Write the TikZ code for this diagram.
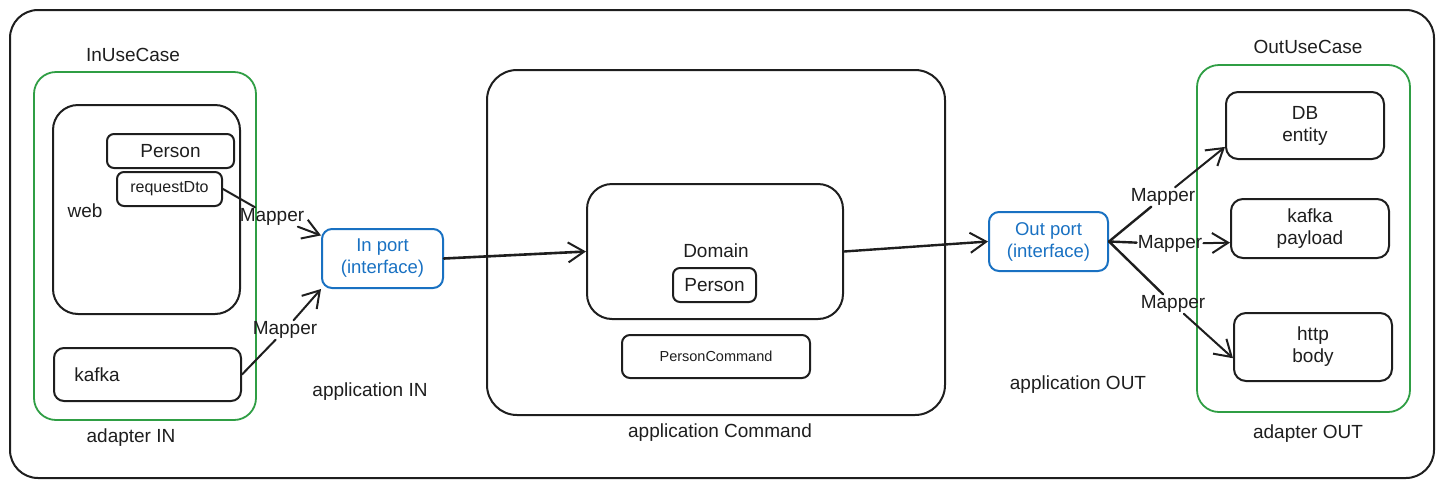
\documentclass[tikz,border=0pt]{standalone}
\usepackage{fontspec}
\setmainfont{Liberation Sans}
\usetikzlibrary{arrows.meta}
\definecolor{xgreen}{HTML}{2F9E44}
\definecolor{xblue}{HTML}{1971C2}
\definecolor{xink}{HTML}{1E1E1E}
\tikzset{
  txt/.style={font=\fontsize{19}{22}\selectfont, text=xink, inner sep=1pt, align=center},
  smalltxt/.style={font=\fontsize{16}{19}\selectfont, text=xink},
  tinytxt/.style={font=\fontsize{14.5}{17}\selectfont, text=xink},
  box/.style={draw=xink, line width=2pt, inner sep=0pt},
  greenbox/.style={draw=xgreen, line width=1.8pt, rounded corners=22pt, inner sep=0pt},
  bluebox/.style={draw=xblue, line width=2pt, rounded corners=10pt, inner sep=0pt,
    text=xblue, font=\fontsize{18.5}{22}\selectfont, align=center},
  conn/.style={draw=xink, line width=2pt, line cap=round},
  arr/.style={conn, -{Straight Barb[length=16pt,width=20pt,line width=2pt]}},
  lbl/.style={txt, inner sep=1pt},
}
\begin{document}
\begin{tikzpicture}[x=1pt,y=-1pt]
\useasboundingbox (0,0) rectangle (1444,488);
% outer frame
\node[box, rounded corners=28pt, minimum width=1424, minimum height=468] (frame) at (722,244) {};

% ---------- adapter IN ----------
\node[greenbox, minimum width=222, minimum height=348] (inuc) at (145,246) {};
\node[txt] (inuclbl) at (133,55) {InUseCase};
\node[txt] (adinlbl) at (131,438) {adapter IN};
\node[box, rounded corners=25pt, minimum width=187, minimum height=209] (web) at (146.5,209.5) {};
\node[box, rounded corners=7pt, minimum width=127, minimum height=34, txt] (personW) at (170.5,151) {Person};
\node[box, rounded corners=7pt, minimum width=105, minimum height=34, smalltxt] (reqdto) at (169.5,189) {requestDto};
\node[txt] (weblbl) at (85,211) {web};
\node[box, rounded corners=10pt, minimum width=187, minimum height=53] (kafkaIn) at (147.5,374.5) {};
\node[txt] (kafkalbl) at (97,375) {kafka};

% ---------- in port ----------
\node[bluebox, minimum width=121, minimum height=59] (inport) at (382.5,258.5) {In port\\(interface)};
\node[txt] (appinlbl) at (370,392) {application IN};
\node[lbl] (m1) at (272,217) {Mapper};
\node[lbl] (m2) at (285,330) {Mapper};
\draw[conn] (reqdto.east) -- (m1);
\draw[arr] (m1) -- (inport);
\draw[conn] (kafkaIn.east) -- (m2);
\draw[arr] (m2) -- (inport.south west);

% ---------- application command ----------
\node[box, rounded corners=30pt, minimum width=458, minimum height=345] (appcmd) at (716,242.5) {};
\node[txt] (appcmdlbl) at (720,433) {application Command};
\node[box, rounded corners=25pt, minimum width=256, minimum height=135] (domain) at (715,251.5) {};
\node[txt] (domainlbl) at (716,251) {Domain};
\node[box, rounded corners=7pt, minimum width=83, minimum height=34, txt] (personD) at (714.5,285) {Person};
\node[box, rounded corners=8pt, minimum width=188, minimum height=43, tinytxt] (personcmd) at (716,356.5) {PersonCommand};
\draw[arr, line width=2.6pt] (inport.east) -- (domain.west);

% ---------- out port ----------
\node[bluebox, minimum width=119, minimum height=59] (outport) at (1048.5,241.5) {Out port\\(interface)};
\node[txt] (appoutlbl) at (1078,385) {application OUT};
\draw[arr, line width=2.4pt] (domain.east) -- (outport.west);

% ---------- adapter OUT ----------
\node[greenbox, minimum width=213, minimum height=347] (outuc) at (1303.5,238.5) {};
\node[txt] (outuclbl) at (1308,47) {OutUseCase};
\node[txt] (adoutlbl) at (1308,434) {adapter OUT};
\node[box, rounded corners=12pt, minimum width=158, minimum height=67, txt] (db) at (1305,125.5) {DB\\entity};
\node[box, rounded corners=12pt, minimum width=158, minimum height=59, txt] (kp) at (1310,228.5) {kafka\\payload};
\node[box, rounded corners=12pt, minimum width=158, minimum height=68, txt] (http) at (1313,347) {http\\body};

\node[lbl] (m3) at (1163,197) {Mapper};
\node[lbl] (m4) at (1170,244) {Mapper};
\node[lbl] (m5) at (1173,304) {Mapper};
\draw[conn, line width=2.4pt] (outport.east) -- (m3);
\draw[arr] (m3) -- (db.195);
\draw[conn, line width=2.4pt] (outport.east) -- (m4);
\draw[arr] (m4) -- (kp.190);
\draw[conn, line width=2.4pt] (outport.east) -- (m5);
\draw[arr] (m5) -- (http.188);
\end{tikzpicture}
\end{document}
